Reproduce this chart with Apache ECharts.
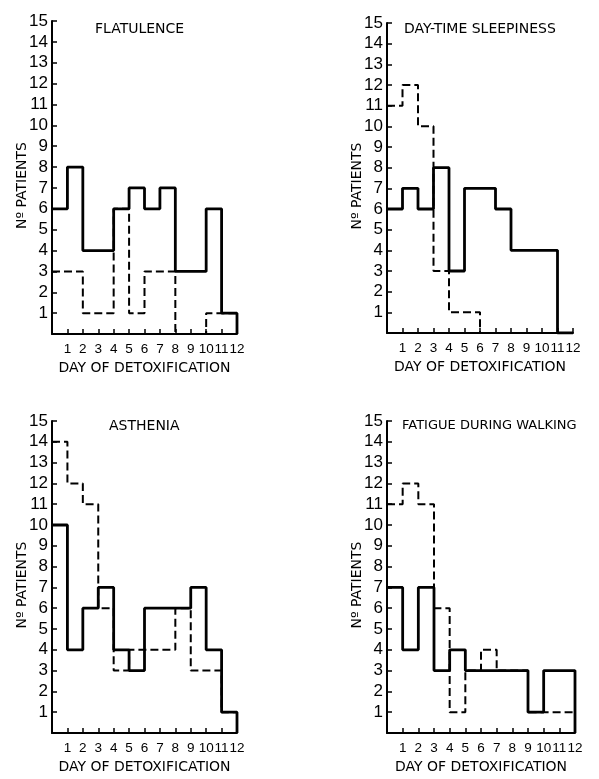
<!DOCTYPE html>
<html><head><meta charset="utf-8">
<script src="https://cdn.jsdelivr.net/npm/echarts@6/dist/echarts.min.js"></script>
<style>html,body{margin:0;padding:0;background:#fff}#c{width:599px;height:779px}</style>
</head><body><div id="c"></div>
<script>
const days = [1,2,3,4,5,6,7,8,9,10,11,12];
const yTicks = [1,2,3,4,5,6,7,8,9,10,11,12,13,14,15];
const titles = ["FLATULENCE","DAY-TIME SLEEPINESS","ASTHENIA","FATIGUE DURING WALKING"];
const yName = "Nº PATIENTS";
const xName = "DAY OF DETOXIFICATION";
const flatulenceSolid  = [6,8,4,4,6,7,6,7,3,3,6,1];
const flatulenceDashed = [3,3,1,1,6,1,3,3,0,0,1,1];
const sleepinessSolid  = [6,7,6,8,3,7,7,6,4,4,4,0];
const sleepinessDashed = [11,12,10,3,1,1,0,0,0,0,0,0];
const astheniaSolid    = [10,4,6,7,4,3,6,6,6,7,4,1];
const astheniaDashed   = [14,12,11,6,3,4,4,4,6,3,3,1];
const fatigueSolid     = [7,4,7,3,4,3,3,3,3,1,3,3];
const fatigueDashed    = [11,12,11,6,1,3,4,3,3,1,1,1];

const panels = [
  {solid: flatulenceSolid, dashed: flatulenceDashed},
  {solid: sleepinessSolid, dashed: sleepinessDashed},
  {solid: astheniaSolid, dashed: astheniaDashed},
  {solid: fatigueSolid, dashed: fatigueDashed}
];
const grids = [
  {left:52, top:21, width:185, height:313},
  {left:387, top:23, width:186, height:310},
  {left:52, top:421, width:185, height:312},
  {left:387, top:421, width:188, height:312}
];
const titlePos = [
  {left:95, top:22, size:14},
  {left:404, top:22, size:14},
  {left:109, top:419, size:14},
  {left:402, top:419, size:13}
];
const numFont = "'Liberation Sans',sans-serif";
const txtFont = "'DejaVu Sans',sans-serif";

// histogram bins: bin k spans [k-1, k]
function stepData(vals){
  const d = vals.map((v,i)=>[days[i]-1, v]);
  d.push([days[days.length-1], 0]);
  return d;
}

const option = {
  animation:false,
  backgroundColor:'#fff',
  title: titles.map((t,i)=>({text:t, left:titlePos[i].left, top:titlePos[i].top, padding:0,
    textStyle:{fontSize:titlePos[i].size, fontWeight:'normal', color:'#000', fontFamily:txtFont}})),
  grid: grids.map(g=>Object.assign({containLabel:false}, g)),
  xAxis: grids.map((g,i)=>({
    type:'value', gridIndex:i, min:0, max:days.length, interval:1,
    name:xName, nameLocation:'middle', nameGap:27, nameMoveOverlap:false,
    nameTextStyle:{fontSize:14, color:'#000', fontFamily:txtFont},
    axisLine:{lineStyle:{color:'#000', width:2}},
    axisTick:{inside:true, length:5, lineStyle:{color:'#000', width:1.5}},
    axisLabel:{color:'#000', fontSize:13.5, fontFamily:numFont, margin:8, interval:0,
      showMaxLabel:true, showMinLabel:true, hideOverlap:false,
      formatter:v=>days.includes(v)?String(v):''},
    splitLine:{show:false}
  })),
  yAxis: grids.map((g,i)=>({
    type:'value', gridIndex:i, min:0, max:15, interval:1,
    name:yName, nameLocation:'middle', nameGap:23, nameRotate:90, nameMoveOverlap:false,
    nameTextStyle:{fontSize:14, color:'#000', fontFamily:txtFont, padding:[0,16,0,0]},
    axisLine:{lineStyle:{color:'#000', width:2}},
    axisTick:{inside:true, length:5, lineStyle:{color:'#000', width:1.5}},
    axisLabel:{color:'#000', fontSize:17, fontFamily:numFont, margin:4, showMaxLabel:true,
      formatter:v=>yTicks.includes(v)?String(v):''},
    splitLine:{show:false}
  })),
  series: []
};
panels.forEach((p,i)=>{
  option.series.push({type:'line', xAxisIndex:i, yAxisIndex:i, step:'end', showSymbol:false,
    data:stepData(p.dashed), lineStyle:{color:'#000', width:2, type:[8,4]}, z:3});
  option.series.push({type:'line', xAxisIndex:i, yAxisIndex:i, step:'end', showSymbol:false,
    data:stepData(p.solid), lineStyle:{color:'#000', width:2.8, type:'solid'}, z:4});
});
const chart = echarts.init(document.getElementById('c'), null, {renderer:'canvas'});
chart.setOption(option);
</script>
</body></html>
